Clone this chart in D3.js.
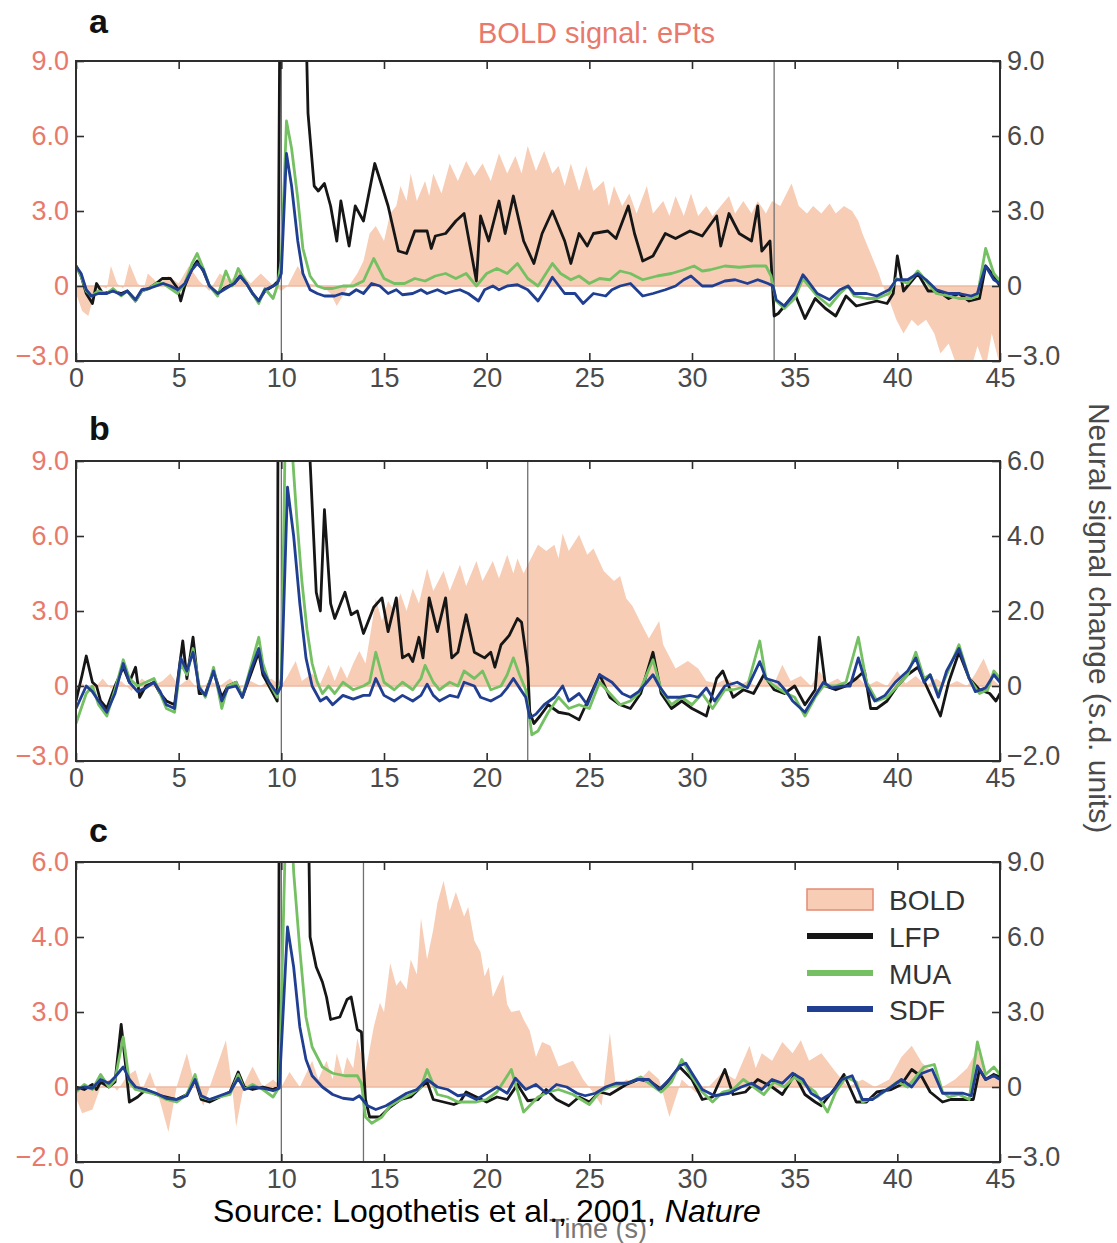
<!DOCTYPE html>
<html><head><meta charset="utf-8">
<script src="https://cdn.jsdelivr.net/npm/d3@7"></script>
<style>html,body{margin:0;padding:0;background:#fff;} svg{display:block;font-family:"Liberation Sans",Arial,Helvetica,sans-serif;}</style>
</head><body><svg id="chart" width="1117" height="1243"></svg>
<script>
// ---------- tick values & labels ----------
const xTicks = [0,5,10,15,20,25,30,35,40,45];
const xTickLabels = ["0","5","10","15","20","25","30","35","40","45"];
const ticks9 = [-3,0,3,6,9];
const labels9 = ["\u22123.0","0","3.0","6.0","9.0"];
const ticks6 = [-2,0,2,4,6];
const labels6R = ["\u22122.0","0","2.0","4.0","6.0"];
const labels6L = ["\u22122.0","0","3.0","4.0","6.0"];
const legendNames = ["BOLD","LFP","MUA","SDF"];
const stimA = [10,34], stimB = [10,22], stimC = [10,14];

// ---------- panel a ----------
const boldA = [[0,-0.3],[0.3,-1.0],[0.6,-1.2],[0.9,-0.3],[1.2,0],[1.5,-0.1],[1.7,0.8],[2.0,0.1],[2.3,-0.1],[2.6,0.9],[3.0,0.1],[3.3,-0.1],[3.5,0.5],[4.0,0.1],[4.5,0.4],[5.0,0.1],[5.5,0.8],[6.0,0.2],[6.5,-0.2],[7.0,0.5],[7.5,0.2],[8.0,0.6],[8.5,0.1],[9.0,0.5],[9.5,0.1],[10.0,-0.2],[10.3,0.0],[10.8,0.8],[11.3,0.1],[12.0,0],[12.4,-0.3],[12.7,-0.8],[13.2,-0.1],[13.7,0.5],[14.0,1.0],[14.3,2.1],[14.6,2.4],[15.0,1.8],[15.3,2.9],[15.6,3.2],[15.8,4.0],[16.1,3.4],[16.3,4.5],[16.6,3.4],[17.0,4.2],[17.2,3.6],[17.4,4.5],[17.8,3.7],[18.2,4.9],[18.6,4.2],[19.0,5.0],[19.4,4.4],[19.8,4.9],[20.2,4.2],[20.6,5.3],[21.0,4.5],[21.4,5.2],[21.7,4.5],[22.0,5.6],[22.4,4.6],[22.8,5.4],[23.2,4.5],[23.5,4.8],[23.8,4.0],[24.1,4.9],[24.5,3.8],[24.85,4.8],[25.2,3.8],[25.7,4.2],[25.95,3.2],[26.2,4.0],[26.6,3.2],[26.95,3.7],[27.3,2.9],[27.8,4.0],[28.1,2.9],[28.6,3.4],[28.9,2.8],[29.2,3.6],[29.6,2.8],[29.95,3.7],[30.3,2.8],[30.7,3.2],[31.0,2.8],[31.4,3.2],[31.8,3.6],[32.1,2.9],[32.5,3.4],[32.9,2.9],[33.2,3.4],[33.6,2.9],[33.9,3.4],[34.3,3.2],[34.85,4.1],[35.2,3.2],[35.6,2.9],[35.9,3.2],[36.3,2.9],[36.7,3.3],[37.0,2.9],[37.4,3.2],[37.8,3.0],[38.1,2.6],[38.3,2.1],[38.7,1.3],[39.1,0.5],[39.3,0],[39.6,-0.55],[39.95,-1.35],[40.3,-1.9],[40.7,-1.35],[41.0,-1.6],[41.4,-1.35],[41.8,-1.9],[42.1,-2.7],[42.5,-2.3],[42.9,-3.2],[43.2,-3.0],[43.6,-3.3],[43.9,-2.4],[44.3,-3.3],[44.6,-1.9],[45,-3.2]];
const lfpA = [[0,0.8],[0.25,0.4],[0.5,-0.3],[0.8,-0.7],[1.0,0.1],[1.3,-0.3],[1.8,-0.2],[2.2,-0.3],[2.5,-0.2],[2.9,-0.6],[3.2,-0.2],[3.55,-0.1],[3.9,0.1],[4.2,0.3],[4.6,0.3],[4.95,-0.1],[5.1,-0.6],[5.3,0],[5.65,0.7],[5.9,1.0],[6.2,0.6],[6.5,0],[6.9,-0.3],[7.2,-0.1],[7.7,0.1],[8.0,0.4],[8.3,0.1],[8.6,-0.3],[8.9,-0.6],[9.2,-0.2],[9.6,0],[9.85,0.2],[9.95,14],[11.1,14],[11.3,6.9],[11.6,4.0],[11.8,3.8],[12.1,4.1],[12.4,3.2],[12.7,1.8],[12.9,3.4],[13.3,1.6],[13.6,3.2],[14.0,2.6],[14.55,4.9],[14.9,4.0],[15.2,3.2],[15.7,1.4],[16.1,1.3],[16.5,2.2],[17.1,2.2],[17.3,1.5],[17.5,2.0],[18.0,2.1],[18.5,2.6],[18.9,2.9],[19.5,0.2],[19.7,2.8],[20.1,1.8],[20.6,3.4],[20.9,2.1],[21.3,3.6],[21.8,1.8],[22.3,0.9],[22.7,2.1],[23.2,3.0],[23.8,1.8],[24.1,0.9],[24.5,2.1],[24.9,1.6],[25.2,2.1],[25.9,2.2],[26.3,1.9],[26.9,3.2],[27.2,2.1],[27.6,1.0],[28.1,1.2],[28.7,2.1],[29.2,1.9],[29.9,2.2],[30.5,2.0],[31.2,2.8],[31.4,1.6],[31.8,2.9],[32.3,2.1],[32.9,1.8],[33.2,3.2],[33.4,1.4],[33.8,1.8],[34.0,-1.2],[34.2,-1.1],[34.6,-0.7],[35.0,-0.3],[35.5,-1.3],[36.0,-0.5],[36.5,-0.9],[37.0,-1.2],[37.5,-0.4],[38.0,-0.8],[38.5,-0.7],[39.0,-0.6],[39.5,-0.7],[39.8,-0.3],[40.0,1.2],[40.3,-0.2],[41.0,0.5],[41.5,-0.2],[42.0,-0.2],[42.5,-0.5],[43.0,-0.3],[43.5,-0.6],[44.0,-0.5],[44.3,0.8],[44.6,0.5],[45,0]];
const muaA = [[0,0.8],[0.25,0.4],[0.5,-0.2],[0.75,-0.4],[1.1,-0.2],[1.5,-0.3],[1.8,-0.1],[2.2,-0.4],[2.5,-0.2],[2.9,-0.6],[3.2,-0.2],[3.55,-0.1],[3.9,0.1],[4.25,0.1],[4.6,-0.1],[4.95,-0.3],[5.3,0.1],[5.65,0.9],[5.9,1.3],[6.2,0.7],[6.5,0],[6.9,-0.4],[7.3,0.6],[7.6,0],[7.9,0.7],[8.3,0.1],[8.6,-0.3],[8.9,-0.7],[9.2,-0.1],[9.6,-0.5],[9.8,0],[10.0,1.0],[10.25,6.6],[10.5,5.5],[10.8,3.5],[11.05,1.5],[11.4,0.4],[11.75,0],[12.1,-0.1],[12.5,-0.1],[13.0,0],[13.5,0],[14.0,0.2],[14.5,1.1],[15.0,0.3],[15.5,0.1],[16.0,0.1],[16.5,0.3],[17.0,0.2],[17.5,0.4],[18.0,0.5],[18.5,0.3],[19.0,0.5],[19.5,0],[20.0,0.5],[20.5,0.7],[21.0,0.5],[21.5,0.9],[22.0,0.3],[22.5,0],[23.2,0.9],[23.6,0.5],[24.1,0.25],[24.5,0.4],[25.0,0.1],[25.5,0.3],[26.0,0.25],[26.5,0.6],[27.0,0.5],[27.6,0.25],[28.3,0.4],[29.0,0.5],[29.6,0.65],[30.1,0.8],[30.5,0.6],[30.9,0.65],[31.6,0.8],[32.3,0.75],[33.0,0.8],[33.6,0.8],[33.85,0.4],[34.1,-0.6],[34.5,-0.9],[35.0,-0.5],[35.4,0.3],[35.6,0.1],[36.1,-0.4],[36.7,-0.8],[37.2,-0.3],[37.6,0],[37.9,-0.4],[38.5,-0.5],[39.0,-0.5],[39.6,-0.3],[39.95,0.3],[40.5,0.1],[41.0,0.6],[41.4,0.2],[41.9,-0.3],[42.5,-0.4],[43.0,-0.5],[43.6,-0.5],[43.9,-0.4],[44.3,1.5],[44.7,0.5],[45,0.2]];
const sdfA = [[0,0.8],[0.25,0.5],[0.5,-0.15],[0.75,-0.4],[1.1,-0.3],[1.5,-0.3],[1.8,-0.2],[2.2,-0.35],[2.5,-0.2],[2.9,-0.55],[3.2,-0.15],[3.55,-0.1],[3.9,0],[4.25,0.1],[4.6,0],[4.95,-0.15],[5.3,0.1],[5.65,0.65],[5.9,0.9],[6.2,0.65],[6.5,0],[6.9,-0.3],[7.2,-0.15],[7.7,0.1],[8.0,0.4],[8.3,0.1],[8.6,-0.3],[8.9,-0.6],[9.2,-0.15],[9.6,0],[9.8,0.1],[10.0,0.5],[10.25,5.3],[10.5,4.0],[10.8,1.8],[11.05,0.5],[11.4,-0.15],[11.75,-0.3],[12.1,-0.4],[12.6,-0.4],[12.95,-0.3],[13.3,-0.35],[13.65,-0.15],[14.0,-0.3],[14.4,0.1],[14.8,0],[15.2,-0.3],[15.6,-0.15],[15.9,-0.35],[16.4,-0.3],[16.8,-0.15],[17.1,-0.3],[17.6,-0.15],[18.0,-0.3],[18.4,-0.2],[18.7,-0.15],[19.1,-0.3],[19.6,-0.6],[19.9,-0.15],[20.3,0],[20.6,-0.15],[21.0,0],[21.5,0.05],[22.0,-0.15],[22.5,-0.6],[22.85,-0.15],[23.2,0.35],[23.8,-0.3],[24.3,-0.3],[24.7,-0.7],[25.2,-0.3],[25.8,-0.4],[26.1,-0.15],[26.5,0],[27.0,0.1],[27.6,-0.4],[28.1,-0.3],[28.7,-0.15],[29.2,0],[29.6,0.25],[29.95,0.4],[30.5,0],[31.0,0],[31.6,0.2],[32.1,0.25],[32.7,0.1],[33.2,0.25],[33.7,0.1],[33.95,0],[34.1,-0.55],[34.5,-0.8],[35.0,-0.3],[35.4,0.45],[35.6,0.25],[36.1,-0.3],[36.7,-0.55],[37.2,-0.15],[37.6,0],[37.9,-0.3],[38.5,-0.3],[39.0,-0.4],[39.6,-0.15],[39.95,0.25],[40.5,0.25],[41.0,0.5],[41.4,0.25],[41.9,-0.15],[42.5,-0.3],[43.0,-0.3],[43.6,-0.4],[43.9,-0.3],[44.3,0.8],[44.7,0.25],[45,0.1]];

// ---------- panel b ----------
const boldB = [[0,-0.5],[0.3,0.1],[0.8,-0.2],[1.3,0.3],[1.7,-0.1],[2.2,0.2],[2.7,-0.2],[3.2,0.3],[3.7,0],[4.2,0.2],[4.6,0.5],[5.0,0],[5.5,0.3],[6.0,-0.2],[6.5,0.2],[7.0,0],[7.5,0.3],[8.0,-0.1],[8.5,0.2],[9.0,0],[9.5,0.3],[10.0,0],[10.3,0.4],[10.7,1.0],[11.0,0.2],[11.5,0.5],[11.9,0.1],[12.3,0.85],[12.6,0.2],[12.9,0.8],[13.2,0.3],[13.5,0.9],[13.8,1.4],[14.1,0.9],[14.4,2.4],[14.6,3.5],[14.9,2.6],[15.2,3.4],[15.5,3.0],[15.8,3.7],[16.1,3.0],[16.4,3.9],[16.7,3.3],[17.1,4.7],[17.4,3.8],[17.9,4.6],[18.2,3.8],[18.7,4.85],[19.0,4.0],[19.5,5.0],[19.8,4.2],[20.3,5.0],[20.6,4.3],[21.0,5.25],[21.3,4.5],[21.5,5.1],[21.8,4.5],[22.0,4.85],[22.5,5.65],[22.9,5.4],[23.3,5.65],[23.5,5.1],[23.7,6.1],[24.0,5.4],[24.5,6.05],[24.9,5.25],[25.2,5.5],[25.7,4.6],[26.2,4.2],[26.5,4.4],[26.8,3.5],[27.1,3.2],[27.4,2.7],[27.9,1.9],[28.4,2.6],[28.6,1.65],[29.2,0.7],[29.8,1.0],[30.3,0.7],[30.7,0.2],[31.2,0.1],[31.7,0.3],[32.2,0],[32.7,0.2],[33.1,0],[33.5,0.3],[34.0,0.1],[34.4,0.85],[34.8,0.2],[35.3,0.4],[35.8,0],[36.2,0.6],[36.6,0.1],[37.1,0.3],[37.5,0],[38.0,0.4],[38.5,0],[39.0,0.2],[39.5,0],[40.0,0.6],[40.4,0.1],[40.9,0.4],[41.4,0],[41.9,0.3],[42.4,0],[42.9,0.2],[43.4,0],[43.8,0.5],[44.2,1.1],[44.6,0.3],[45,0]];
const lfpB = [[0,-0.4],[0.3,0.3],[0.5,0.8],[0.8,0.1],[1.0,0],[1.2,-0.4],[1.5,-0.6],[1.9,0],[2.3,0.5],[2.6,0.1],[2.9,0.5],[3.1,-0.3],[3.4,0],[3.8,0.1],[4.1,-0.2],[4.4,-0.4],[4.8,-0.5],[5.2,1.2],[5.4,0.2],[5.7,1.3],[6.0,-0.2],[6.3,-0.2],[6.7,0.4],[7.1,-0.3],[7.4,0],[7.8,0.1],[8.1,-0.3],[8.5,0.3],[8.9,0.9],[9.1,0.3],[9.4,0],[9.8,-0.4],[9.85,9],[11.3,9],[11.4,6.0],[11.7,2.5],[11.9,2.0],[12.1,4.7],[12.4,2.2],[12.6,1.8],[13.1,2.5],[13.4,1.9],[13.7,2.0],[14.0,1.4],[14.5,2.1],[14.9,2.35],[15.2,1.45],[15.6,2.35],[15.9,0.75],[16.2,0.85],[16.4,0.65],[16.7,1.3],[16.9,0.75],[17.2,2.35],[17.6,1.45],[18.0,2.35],[18.3,0.75],[18.6,0.9],[19.0,1.9],[19.4,0.9],[19.9,0.75],[20.2,0.9],[20.4,0.5],[20.7,1.1],[21.1,1.35],[21.5,1.8],[21.7,1.7],[22.0,0.5],[22.1,-0.7],[22.3,-1.0],[22.6,-0.8],[23.0,-0.5],[23.5,-0.7],[24.0,-0.75],[24.5,-0.9],[25.0,-0.3],[25.5,0.3],[26.0,-0.3],[26.5,-0.5],[27.0,-0.6],[27.5,-0.2],[28.1,0.9],[28.5,-0.2],[29.0,-0.6],[29.5,-0.4],[30.0,-0.6],[30.7,-0.8],[31.2,0.2],[31.5,0.4],[32.0,-0.3],[32.5,-0.1],[33.0,-0.2],[33.5,0.3],[34.0,-0.1],[34.5,-0.2],[35.0,0],[35.5,-0.5],[36.0,-0.1],[36.2,1.3],[36.5,0],[37.0,-0.1],[37.5,0],[38.0,0.2],[38.4,0.4],[38.7,-0.6],[39.0,-0.6],[39.5,-0.4],[40.0,0],[40.5,0.3],[41.0,0.5],[41.5,-0.1],[42.1,-0.8],[42.5,0.1],[43.0,0.9],[43.5,0.2],[44.0,-0.1],[44.5,-0.2],[44.8,-0.4],[45,-0.2]];
const muaB = [[0,-1.0],[0.5,-0.2],[0.8,0],[1.1,-0.5],[1.5,-0.8],[1.9,-0.1],[2.3,0.7],[2.6,0.2],[3.0,0],[3.4,0.1],[3.8,0.2],[4.1,-0.2],[4.4,-0.6],[4.8,-0.7],[5.1,0.6],[5.4,0.3],[5.7,1.0],[6.0,0],[6.3,-0.3],[6.7,0.5],[7.1,-0.6],[7.4,0],[7.8,0.1],[8.1,-0.3],[8.5,0.5],[8.9,1.3],[9.1,0.6],[9.4,0.1],[9.8,-0.3],[10.0,0.2],[10.2,7.0],[10.5,6.5],[10.75,4.5],[11.0,2.8],[11.25,1.5],[11.5,0.6],[11.75,0.1],[12.0,-0.2],[12.3,0],[12.6,-0.2],[13.0,0.1],[13.5,-0.1],[14.0,0],[14.3,0.1],[14.6,0.9],[15.0,0.1],[15.5,-0.1],[15.9,0.1],[16.4,-0.1],[16.8,0.2],[17.0,0.55],[17.4,0.1],[17.7,-0.1],[18.2,0.1],[18.6,0],[18.9,0.4],[19.4,0.2],[19.8,0.4],[20.2,-0.1],[20.7,0],[21.0,0.3],[21.3,0.75],[21.6,0.3],[21.9,-0.1],[22.2,-1.3],[22.5,-1.2],[23.0,-0.7],[23.5,-0.3],[24.0,-0.6],[24.5,-0.5],[25.0,-0.6],[25.5,0.1],[26.0,-0.2],[26.5,-0.5],[27.0,-0.4],[27.4,-0.2],[28.1,0.7],[28.5,-0.1],[29.0,-0.5],[29.5,-0.3],[30.0,-0.5],[30.5,-0.2],[31.0,-0.6],[31.6,-0.1],[32.0,-0.1],[32.7,0],[33.3,1.2],[33.6,0.2],[34.0,0],[34.6,-0.2],[35.0,-0.3],[35.5,-0.8],[36.0,-0.3],[36.4,0],[37.0,0],[37.5,0.1],[38.1,1.3],[38.5,0.1],[39.0,-0.4],[39.5,-0.3],[40.0,0],[40.5,0.3],[40.9,0.9],[41.3,0.2],[41.6,0.3],[42.0,-0.2],[42.4,0.3],[43.0,1.1],[43.5,0.2],[44.0,-0.2],[44.4,-0.1],[44.7,0.4],[45,0.2]];
const sdfB = [[0,-0.6],[0.5,0],[0.8,-0.15],[1.1,-0.4],[1.5,-0.7],[1.9,-0.2],[2.3,0.6],[2.6,0.1],[3.0,-0.15],[3.4,-0.05],[3.8,0.1],[4.1,-0.15],[4.4,-0.5],[4.8,-0.6],[5.1,0.75],[5.4,0.4],[5.7,0.9],[6.0,-0.05],[6.3,-0.25],[6.7,0.4],[7.1,-0.4],[7.4,-0.05],[7.8,0],[8.1,-0.3],[8.5,0.4],[8.9,1.0],[9.1,0.4],[9.4,0.1],[9.8,-0.2],[10.0,0],[10.3,5.3],[10.6,4.0],[10.9,2.2],[11.2,0.75],[11.5,0],[11.9,-0.4],[12.2,-0.3],[12.5,-0.5],[13.0,-0.25],[13.5,-0.35],[14.0,-0.25],[14.3,-0.25],[14.6,0.2],[15.0,-0.25],[15.5,-0.4],[15.9,-0.25],[16.4,-0.4],[16.8,-0.25],[17.1,0.05],[17.4,-0.25],[17.7,-0.4],[18.2,-0.25],[18.6,-0.3],[18.9,0.1],[19.4,0],[19.7,-0.3],[20.2,-0.4],[20.7,-0.25],[21.0,-0.05],[21.3,0.2],[21.6,-0.05],[21.9,-0.3],[22.1,-0.85],[22.4,-0.75],[22.8,-0.5],[23.3,-0.3],[23.7,0],[24.0,-0.4],[24.5,-0.2],[24.9,-0.5],[25.5,0.3],[26.1,0.1],[26.6,-0.2],[27.0,-0.3],[27.4,-0.15],[27.8,0.1],[28.1,0.3],[28.4,0],[28.8,-0.3],[29.4,-0.3],[29.9,-0.25],[30.3,-0.3],[30.7,-0.05],[31.1,-0.4],[31.6,0],[32.2,0.1],[32.7,-0.05],[33.3,0.65],[33.6,0.2],[34.2,0.1],[34.6,-0.15],[34.9,-0.4],[35.5,-0.7],[36.0,-0.25],[36.4,0.1],[36.8,-0.05],[37.4,0],[37.7,0],[38.1,0.75],[38.5,0],[38.9,-0.4],[39.4,-0.25],[39.9,0.1],[40.5,0.4],[40.9,0.75],[41.3,0.1],[41.6,0.3],[42.0,-0.3],[42.4,0.4],[43.0,1.0],[43.5,0.2],[43.8,-0.15],[44.3,-0.05],[44.7,0.3],[45,0.1]];

// ---------- panel c ----------
const boldC = [[0,-0.3],[0.3,-0.7],[0.8,-0.6],[1.2,0],[1.6,0.2],[2.0,-0.1],[2.5,0.3],[2.9,0.45],[3.2,-0.1],[3.6,0.4],[4.0,-0.2],[4.5,-1.2],[4.9,0],[5.4,0.9],[5.8,0],[6.2,-0.5],[6.7,0.3],[7.3,1.25],[7.6,0],[7.8,-1.05],[8.2,0.1],[8.6,0.55],[9.1,0],[9.6,0.2],[10.0,0],[10.4,0.4],[10.9,0],[11.5,0.7],[11.8,0.2],[12.2,0.7],[12.5,0.2],[12.7,0.9],[13.0,0.3],[13.2,0.8],[13.5,0.5],[13.7,1.3],[14.1,0.4],[14.5,1.6],[14.8,2.25],[15.0,2.0],[15.3,3.3],[15.6,2.7],[15.8,2.85],[16.1,2.6],[16.3,3.4],[16.6,3.0],[16.8,4.5],[17.1,3.4],[17.4,4.2],[17.6,4.9],[17.9,5.5],[18.2,4.7],[18.5,5.2],[18.9,4.55],[19.1,4.8],[19.4,3.9],[19.7,3.6],[19.9,2.95],[20.1,3.2],[20.3,2.4],[20.8,3.0],[21.0,2.2],[21.2,2.0],[21.6,2.05],[21.8,1.8],[22.1,1.5],[22.4,0.8],[22.7,1.2],[23.1,1.1],[23.5,0.55],[24.2,0.7],[24.7,0.2],[25.2,-0.15],[25.6,-0.5],[26.0,1.45],[26.3,0],[26.8,0.2],[27.3,0.1],[27.9,0.45],[28.4,0.2],[28.9,-0.8],[29.5,0.2],[30.2,-0.15],[30.8,0],[31.5,0.4],[32.1,0.2],[32.8,1.1],[33.1,0.5],[33.4,0.9],[33.9,0.7],[34.4,1.2],[34.9,0.9],[35.3,1.25],[35.7,0.7],[36.3,0.9],[37.0,0.4],[37.6,0],[38.3,0.2],[38.9,0],[39.6,0.2],[40.2,0.8],[40.7,1.1],[41.2,0.65],[41.7,0.4],[42.2,0],[42.8,0.2],[43.4,0.5],[43.9,1.0],[44.4,0.2],[44.7,0.4],[45,0.1]];
const lfpC = [[0,0],[0.4,-0.1],[0.8,0.1],[1.0,-0.1],[1.2,0.2],[1.6,0],[1.9,0.2],[2.2,2.5],[2.4,1.0],[2.6,-0.6],[3.0,-0.4],[3.4,-0.1],[3.9,-0.3],[4.4,-0.4],[4.9,-0.5],[5.4,-0.3],[5.8,0.3],[6.1,-0.5],[6.5,-0.6],[7.0,-0.4],[7.5,-0.2],[7.9,0.6],[8.2,0],[8.6,-0.1],[9.1,0],[9.6,-0.1],[9.85,0],[9.9,12],[11.3,12],[11.4,6.0],[11.7,4.8],[12.0,4.2],[12.2,3.6],[12.4,2.7],[12.85,2.8],[13.2,3.5],[13.4,3.6],[13.7,2.3],[13.9,2.2],[14.1,-0.5],[14.3,-1.2],[14.8,-1.2],[15.3,-0.8],[15.8,-0.5],[16.3,-0.4],[16.8,0],[17.1,0.2],[17.4,-0.5],[17.9,-0.6],[18.4,-0.7],[18.7,-0.6],[19.0,-0.2],[19.5,-0.4],[20.0,-0.6],[20.5,-0.4],[21.0,-0.5],[21.5,0.1],[22.0,-0.55],[22.5,-0.5],[22.9,-0.1],[23.4,-0.5],[24.0,-0.75],[24.5,-0.4],[25.0,-0.6],[25.5,-0.2],[26.0,-0.3],[26.8,0.1],[27.4,0.3],[28.0,0.2],[28.5,-0.1],[29.4,0.8],[30.0,0.3],[30.5,-0.5],[31.0,-0.4],[31.6,0.7],[32.0,-0.3],[32.6,-0.2],[33.2,0.3],[33.9,0],[34.4,-0.3],[35.0,0.5],[35.5,-0.3],[36.0,-0.6],[36.3,-0.75],[37.0,0],[37.4,0.5],[38.0,-0.6],[38.5,-0.6],[39.0,-0.2],[39.7,-0.1],[40.2,0.1],[40.7,0.7],[41.2,0.4],[41.6,-0.2],[42.2,-0.6],[42.6,-0.5],[43.2,-0.5],[43.7,-0.5],[44.0,0.7],[44.3,0.3],[44.7,0.5],[45,0.4]];
const muaC = [[0,-0.2],[0.4,0.1],[0.8,-0.1],[1.2,0.5],[1.6,0],[1.9,0.3],[2.3,2.0],[2.6,0.2],[2.9,-0.1],[3.4,-0.2],[3.9,-0.3],[4.4,-0.5],[4.9,-0.6],[5.4,-0.3],[5.8,0.5],[6.1,-0.4],[6.5,-0.5],[7.0,-0.4],[7.5,-0.3],[7.9,0.5],[8.2,-0.1],[8.6,0.1],[9.1,-0.1],[9.6,-0.4],[9.9,0],[10.2,10],[10.55,9.5],[10.6,8.6],[10.9,5.5],[11.2,2.8],[11.5,1.6],[12.0,0.8],[12.5,0.55],[13.1,0.45],[13.7,0.45],[13.9,0.15],[14.1,-1.2],[14.4,-1.45],[14.9,-1.2],[15.3,-0.75],[15.8,-0.5],[16.3,-0.3],[16.8,0],[17.1,0.7],[17.6,-0.3],[18.1,-0.4],[18.6,-0.6],[19.5,-0.6],[20.0,-0.5],[20.5,-0.2],[21.2,0.7],[21.8,-1.0],[22.5,-0.4],[23.0,-0.2],[23.5,-0.1],[24.2,-0.3],[25.0,-0.7],[25.5,-0.2],[26.0,0],[26.5,0.1],[27.0,0.2],[27.5,0.4],[28.0,0.1],[28.5,-0.2],[29.0,0.2],[29.5,1.1],[30.0,0.4],[30.5,-0.2],[31.0,-0.6],[31.5,-0.2],[32.0,-0.1],[32.5,0.3],[33.0,0],[33.5,-0.3],[34.0,0.2],[34.5,0],[35.0,0.4],[35.5,0.1],[36.0,-0.2],[36.6,-1.0],[37.0,-0.2],[37.5,0.4],[38.0,0.2],[38.3,-0.6],[39.0,-0.4],[39.5,-0.1],[40.0,0.2],[40.5,0],[41.0,0.5],[41.3,0.8],[41.8,0.9],[42.2,-0.2],[42.5,-0.4],[43.0,-0.3],[43.5,-0.5],[43.9,1.8],[44.3,0.5],[44.7,0.8],[45,0.5]];
const sdfC = [[0,-0.1],[0.4,0],[0.8,-0.05],[1.2,0.3],[1.6,0.15],[1.9,0.4],[2.3,0.8],[2.6,0.3],[2.9,0],[3.4,-0.1],[3.9,-0.25],[4.4,-0.45],[4.9,-0.5],[5.4,-0.35],[5.8,0.3],[6.1,-0.35],[6.5,-0.5],[7.0,-0.35],[7.5,-0.2],[7.9,0.35],[8.2,-0.1],[8.6,0],[9.1,-0.05],[9.6,-0.15],[9.9,-0.05],[10.3,6.4],[10.6,4.8],[10.9,2.4],[11.2,1.1],[11.5,0.45],[12.0,0],[12.5,-0.3],[13.0,-0.45],[13.5,-0.5],[13.8,-0.35],[14.2,-0.75],[14.6,-0.9],[15.1,-0.75],[15.6,-0.5],[16.1,-0.25],[16.6,-0.1],[17.1,0.3],[17.6,0],[18.1,-0.1],[18.6,-0.35],[19.0,-0.3],[19.5,-0.5],[20.0,-0.25],[20.5,0],[21.0,-0.25],[21.4,0.35],[21.9,-0.1],[22.4,0.1],[22.9,-0.25],[23.4,0.1],[23.9,0],[24.4,-0.25],[24.8,-0.35],[25.3,-0.25],[25.8,0],[26.3,0.15],[26.8,0.15],[27.3,0.3],[27.9,0.3],[28.4,-0.1],[28.9,0.3],[29.4,0.85],[29.7,0.95],[30.0,0.55],[30.5,-0.1],[31.1,-0.35],[31.8,-0.25],[32.4,0],[32.9,0.15],[33.4,-0.1],[33.9,0.3],[34.4,0.15],[34.9,0.55],[35.4,0.3],[35.8,-0.25],[36.3,-0.5],[36.8,-0.25],[37.3,0.3],[37.8,0.45],[38.3,-0.5],[38.8,-0.5],[39.2,-0.25],[39.7,0],[40.2,0.3],[40.7,0],[41.2,0.55],[41.7,0.7],[42.2,-0.25],[42.7,-0.25],[43.2,-0.25],[43.6,-0.35],[43.9,0.85],[44.3,0.3],[44.7,0.45],[45,0.3]];

// ---------- styling ----------
const C = {bold:"#f7cdb6", boldEdge:"#e58a74", boldBase:"#edb9a2", lfp:"#161616", mua:"#74c062", sdf:"#203f92",
           box:"#2e2e2e", salmon:"#e8796b", gray:"#4a4a4a", stim:"#707070"};
const FS = 27;
const svg = d3.select("#chart");
const X0 = 76, X1 = 1000, H = 300;
const x = d3.scaleLinear().domain([0,45]).range([X0, X1]);

const panels = [
  {name:"a", top:61,  labelY:33,  lD:[-3,9], rD:[-3,9], lT:ticks9, lL:labels9, rT:ticks9, rL:labels9, stim:stimA, bold:boldA, lfp:lfpA, mua:muaA, sdf:sdfA},
  {name:"b", top:461, labelY:440, lD:[-3,9], rD:[-2,6], lT:ticks9, lL:labels9, rT:ticks6, rL:labels6R, stim:stimB, bold:boldB, lfp:lfpB, mua:muaB, sdf:sdfB},
  {name:"c", top:862, labelY:842, lD:[-2,6], rD:[-3,9], lT:ticks6, lL:labels6L, rT:ticks9, rL:labels9, stim:stimC, bold:boldC, lfp:lfpC, mua:muaC, sdf:sdfC}
];

function styleAxis(sel, color, lowVal) {
  sel.select(".domain").remove();
  sel.selectAll(".tick line").attr("stroke", C.box).attr("stroke-width", 1.6);
  sel.selectAll(".tick text").attr("fill", color).style("font-size", FS + "px")
     .style("font-family", '"Liberation Sans", Arial, sans-serif');
  if (lowVal !== undefined) sel.selectAll(".tick text").filter(d => d === lowVal).attr("y", -5);
}

panels.forEach((p, i) => {
  const bottom = p.top + H;
  const yL = d3.scaleLinear().domain(p.lD).range([bottom, p.top]);
  const yR = d3.scaleLinear().domain(p.rD).range([bottom, p.top]);
  const g = svg.append("g");
  svg.append("clipPath").attr("id", "clip" + i).append("rect")
     .attr("x", X0).attr("y", p.top).attr("width", X1 - X0).attr("height", H);
  const plot = g.append("g").attr("clip-path", `url(#clip${i})`);

  plot.append("path").datum(p.bold)
      .attr("d", d3.area().x(d => x(d[0])).y0(yL(0)).y1(d => yL(d[1])))
      .attr("fill", C.bold);
  plot.append("line").attr("x1", X0).attr("x2", X1).attr("y1", yL(0)).attr("y2", yL(0))
      .attr("stroke", C.boldBase).attr("stroke-width", 1.5);
  p.stim.forEach(s => plot.append("line").attr("x1", x(s)).attr("x2", x(s))
      .attr("y1", p.top).attr("y2", bottom).attr("stroke", C.stim).attr("stroke-width", 1.3));

  const line = d3.line().x(d => x(d[0])).y(d => yR(d[1]));
  [["lfp", C.lfp], ["mua", C.mua], ["sdf", C.sdf]].forEach(([k, col]) => {
    plot.append("path").datum(p[k]).attr("d", line).attr("fill", "none")
        .attr("stroke", col).attr("stroke-width", 2.8).attr("stroke-linejoin", "round");
  });

  // axes
  g.append("g").attr("transform", `translate(0,${bottom})`)
   .call(d3.axisBottom(x).tickValues(xTicks).tickSizeInner(-8).tickSizeOuter(0).tickPadding(7)
         .tickFormat((d, j) => xTickLabels[j]))
   .call(s => styleAxis(s, C.gray));
  g.append("g").attr("transform", `translate(0,${p.top})`)
   .call(d3.axisTop(x).tickValues(xTicks).tickSizeInner(-8).tickSizeOuter(0).tickFormat(""))
   .call(s => styleAxis(s, C.gray));
  g.append("g").attr("transform", `translate(${X0},0)`)
   .call(d3.axisLeft(yL).tickValues(p.lT).tickSizeInner(-8).tickSizeOuter(0).tickPadding(7)
         .tickFormat((d, j) => p.lL[j]))
   .call(s => styleAxis(s, C.salmon, p.lD[0]));
  g.append("g").attr("transform", `translate(${X1},0)`)
   .call(d3.axisRight(yR).tickValues(p.rT).tickSizeInner(-8).tickSizeOuter(0).tickPadding(7)
         .tickFormat((d, j) => p.rL[j]))
   .call(s => styleAxis(s, C.gray, p.rD[0]));

  g.append("rect").attr("x", X0).attr("y", p.top).attr("width", X1 - X0).attr("height", H)
   .attr("fill", "none").attr("stroke", C.box).attr("stroke-width", 2);

  svg.append("text").attr("x", 89).attr("y", p.labelY).text(p.name)
     .style("font-size", "34px").style("font-weight", "bold").attr("fill", "#111");
});

// title
svg.append("text").attr("x", 478).attr("y", 43).text("BOLD signal: ePts")
   .style("font-size", "29px").attr("fill", C.salmon);

// right axis title
svg.append("text").attr("transform", "translate(1089,618) rotate(90)").attr("text-anchor", "middle")
   .text("Neural signal change (s.d. units)").style("font-size", "30px").attr("fill", C.gray);

// legend (panel c)
const lg = svg.append("g");
const legendColors = [C.bold, C.lfp, C.mua, C.sdf];
const legendY = [899, 936, 973, 1009];
legendNames.forEach((n, j) => {
  if (j === 0) {
    lg.append("rect").attr("x", 807).attr("y", legendY[j] - 10).attr("width", 66).attr("height", 21)
      .attr("fill", C.bold).attr("stroke", C.boldEdge).attr("stroke-width", 1.5);
  } else {
    lg.append("line").attr("x1", 807).attr("x2", 873).attr("y1", legendY[j]).attr("y2", legendY[j])
      .attr("stroke", legendColors[j]).attr("stroke-width", 6);
  }
  lg.append("text").attr("x", 889).attr("y", legendY[j] + 11).text(n)
    .style("font-size", "28px").attr("fill", "#333");
});

// x-axis title and source (overlapping as in the reference)
svg.append("text").attr("x", 598).attr("y", 1238).attr("text-anchor", "middle").text("Time (s)")
   .style("font-size", "27px").attr("fill", "#777");
const src = svg.append("text").attr("x", 213).attr("y", 1222).style("font-size", "32px").attr("fill", "#000");
src.append("tspan").text("Source: Logothetis et al., 2001, ");
src.append("tspan").style("font-style", "italic").text("Nature");
</script></body></html>
